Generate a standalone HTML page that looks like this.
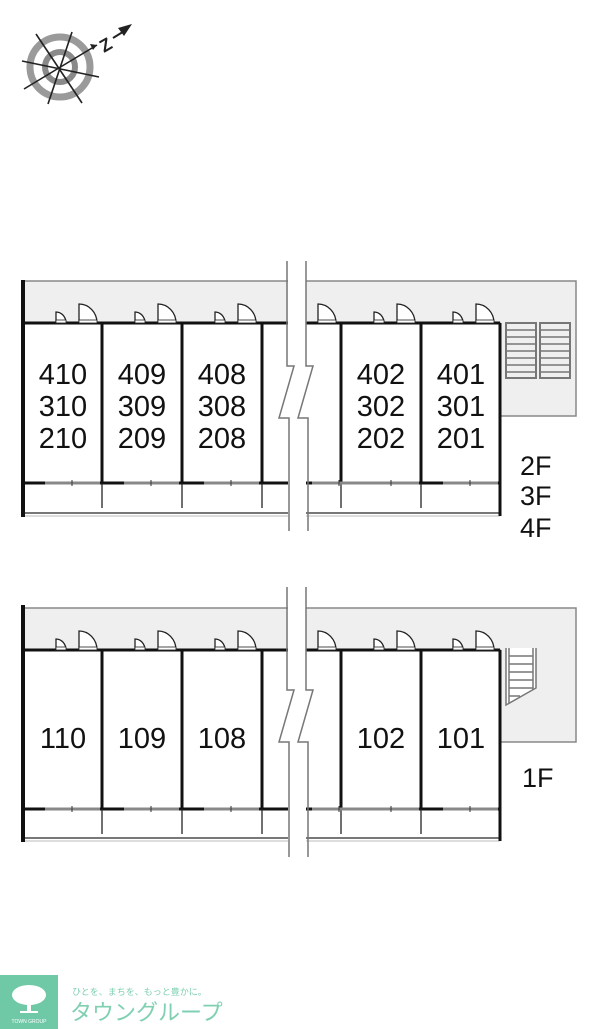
<!DOCTYPE html>
<html><head><meta charset="utf-8"><style>
html,body{margin:0;padding:0;background:#fff;}
svg{display:block}
text{font-family:"Liberation Sans","Noto Sans CJK JP",sans-serif;}
</style></head><body>
<svg width="600" height="1029" viewBox="0 0 600 1029" xmlns="http://www.w3.org/2000/svg">
<defs>
<g id="doors">
  <path d="M0,0 v-11 a10,11 0 0 1 10,11 z" fill="#fff" stroke="#222" stroke-width="1.3"/>
  <rect x="0" y="-3" width="10" height="3" fill="#fff" stroke="#222" stroke-width="0.8"/>
  <path d="M23,0 v-19 a18,19 0 0 1 18,19 z" fill="#fff" stroke="#222" stroke-width="1.3"/>
  <rect x="23" y="-3" width="18" height="3" fill="#fff" stroke="#222" stroke-width="0.8"/>
</g>
<g id="win">
  <line x1="0" y1="0" x2="55" y2="0" stroke="#888" stroke-width="3"/>
  <line x1="27" y1="-3" x2="27" y2="3" stroke="#333" stroke-width="1"/>
</g>
</defs>

<!-- compass -->
<g transform="translate(60,67)">
  <circle r="30" fill="none" stroke="#9a9a9a" stroke-width="7"/>
  <circle r="15" fill="none" stroke="#8a8a8a" stroke-width="6"/>
  <g stroke="#222" stroke-width="1.6">
    <line x1="-24" y1="-33" x2="22" y2="36"/>
    <line x1="12" y1="-35" x2="-12" y2="37"/>
    <line x1="-38" y1="-6" x2="39" y2="10"/>
    <line x1="-36" y1="22" x2="37" y2="-22"/>
  </g>
  <polygon points="37,-22 30,-23 33,-17" fill="#222"/>
</g>
<text x="100" y="52" font-size="18" font-weight="bold" fill="#222" transform="rotate(-30 104 45)">Z</text>
<line x1="113" y1="38" x2="126" y2="30" stroke="#222" stroke-width="2"/>
<polygon points="132,24 118,28 124,36" fill="#222"/>

<!-- ===== upper block ===== -->
<path d="M23,281 H576 V416 H500 V323 H23 Z" fill="#efefef" stroke="#888" stroke-width="1.5"/>
<rect x="23" y="323" width="477" height="160" fill="#fff"/>
<line x1="23" y1="513" x2="500" y2="513" stroke="#777" stroke-width="2"/>
<line x1="23" y1="516" x2="500" y2="516" stroke="#bbb" stroke-width="1"/>
<line x1="23" y1="323" x2="500" y2="323" stroke="#111" stroke-width="3"/>
<line x1="23" y1="483" x2="500" y2="483" stroke="#111" stroke-width="3"/>
<line x1="23" y1="280" x2="23" y2="517" stroke="#111" stroke-width="4"/>
<line x1="500" y1="323" x2="500" y2="516" stroke="#111" stroke-width="3"/>
<g stroke="#111" stroke-width="3">
<line x1="102" y1="323" x2="102" y2="483"/><line x1="182" y1="323" x2="182" y2="483"/>
<line x1="262" y1="323" x2="262" y2="483"/><line x1="341" y1="323" x2="341" y2="483"/>
<line x1="421" y1="323" x2="421" y2="483"/>
</g>
<g stroke="#222" stroke-width="1.3">
<line x1="102" y1="483" x2="102" y2="508"/><line x1="182" y1="483" x2="182" y2="508"/>
<line x1="262" y1="483" x2="262" y2="508"/><line x1="341" y1="483" x2="341" y2="508"/>
<line x1="421" y1="483" x2="421" y2="508"/>
</g>
<use href="#win" x="45" y="483"/><use href="#win" x="124" y="483"/><use href="#win" x="204" y="483"/>
<use href="#win" x="312" y="483"/><use href="#win" x="364" y="483"/><use href="#win" x="443" y="483"/>
<use href="#doors" x="56" y="323"/><use href="#doors" x="135" y="323"/><use href="#doors" x="215" y="323"/>
<use href="#doors" x="295" y="323"/><use href="#doors" x="374" y="323"/><use href="#doors" x="453" y="323"/>
<g stroke="#777" fill="none">
<rect x="506" y="323" width="30" height="55" stroke-width="2"/>
<rect x="540" y="323" width="30" height="55" stroke-width="2"/>
<g stroke-width="1.5">
<line x1="506" y1="330" x2="536" y2="330"/><line x1="506" y1="337" x2="536" y2="337"/><line x1="506" y1="344" x2="536" y2="344"/><line x1="506" y1="351" x2="536" y2="351"/><line x1="506" y1="358" x2="536" y2="358"/><line x1="506" y1="365" x2="536" y2="365"/><line x1="506" y1="372" x2="536" y2="372"/>
<line x1="540" y1="330" x2="570" y2="330"/><line x1="540" y1="337" x2="570" y2="337"/><line x1="540" y1="344" x2="570" y2="344"/><line x1="540" y1="351" x2="570" y2="351"/><line x1="540" y1="358" x2="570" y2="358"/><line x1="540" y1="365" x2="570" y2="365"/><line x1="540" y1="372" x2="570" y2="372"/>
</g></g>
<rect x="288" y="260" width="18" height="272" fill="#fff"/>
<path d="M287,261 V366 L294,366 L279,418 H289 V531" fill="none" stroke="#777" stroke-width="1.5"/>
<path d="M306,261 V366 L313,366 L298,418 H308 V531" fill="none" stroke="#777" stroke-width="1.5"/>
<g font-size="29" fill="#111" text-anchor="middle">
<text x="63" y="384">410</text><text x="63" y="416">310</text><text x="63" y="448">210</text>
<text x="142" y="384">409</text><text x="142" y="416">309</text><text x="142" y="448">209</text>
<text x="222" y="384">408</text><text x="222" y="416">308</text><text x="222" y="448">208</text>
<text x="381" y="384">402</text><text x="381" y="416">302</text><text x="381" y="448">202</text>
<text x="461" y="384">401</text><text x="461" y="416">301</text><text x="461" y="448">201</text>
</g>
<g font-size="27" fill="#111">
<text x="520" y="475">2F</text><text x="520" y="505">3F</text><text x="520" y="537">4F</text>
</g>

<!-- ===== lower block ===== -->
<path d="M23,608 H576 V742 H500 V650 H23 Z" fill="#efefef" stroke="#888" stroke-width="1.5"/>
<rect x="23" y="650" width="477" height="159" fill="#fff"/>
<line x1="23" y1="838" x2="500" y2="838" stroke="#777" stroke-width="2"/>
<line x1="23" y1="841" x2="500" y2="841" stroke="#bbb" stroke-width="1"/>
<line x1="23" y1="650" x2="500" y2="650" stroke="#111" stroke-width="3"/>
<line x1="23" y1="809" x2="500" y2="809" stroke="#111" stroke-width="3"/>
<line x1="23" y1="605" x2="23" y2="842" stroke="#111" stroke-width="4"/>
<line x1="500" y1="650" x2="500" y2="841" stroke="#111" stroke-width="3"/>
<g stroke="#111" stroke-width="3">
<line x1="102" y1="650" x2="102" y2="809"/><line x1="182" y1="650" x2="182" y2="809"/>
<line x1="262" y1="650" x2="262" y2="809"/><line x1="341" y1="650" x2="341" y2="809"/>
<line x1="421" y1="650" x2="421" y2="809"/>
</g>
<g stroke="#222" stroke-width="1.3">
<line x1="102" y1="809" x2="102" y2="834"/><line x1="182" y1="809" x2="182" y2="834"/>
<line x1="262" y1="809" x2="262" y2="834"/><line x1="341" y1="809" x2="341" y2="834"/>
<line x1="421" y1="809" x2="421" y2="834"/>
</g>
<use href="#win" x="45" y="809"/><use href="#win" x="124" y="809"/><use href="#win" x="204" y="809"/>
<use href="#win" x="312" y="809"/><use href="#win" x="364" y="809"/><use href="#win" x="443" y="809"/>
<use href="#doors" x="56" y="650"/><use href="#doors" x="135" y="650"/><use href="#doors" x="215" y="650"/>
<use href="#doors" x="295" y="650"/><use href="#doors" x="374" y="650"/><use href="#doors" x="453" y="650"/>
<g stroke="#777" fill="#fff" stroke-width="1.5">
<path d="M506,648 V705 L536,688 V648" fill="#fff"/>
<line x1="509" y1="648" x2="509" y2="703"/><line x1="533" y1="648" x2="533" y2="690"/>
<line x1="509" y1="656" x2="533" y2="656"/><line x1="509" y1="664" x2="533" y2="664"/><line x1="509" y1="672" x2="533" y2="672"/><line x1="509" y1="680" x2="533" y2="680"/><line x1="509" y1="688" x2="533" y2="688"/><line x1="509" y1="696" x2="520" y2="696"/>
</g>
<rect x="288" y="586" width="18" height="272" fill="#fff"/>
<path d="M287,587 V690 L294,690 L279,742 H289 V857" fill="none" stroke="#777" stroke-width="1.5"/>
<path d="M306,587 V690 L313,690 L298,742 H308 V857" fill="none" stroke="#777" stroke-width="1.5"/>
<g font-size="29" fill="#111" text-anchor="middle">
<text x="63" y="748">110</text><text x="142" y="748">109</text><text x="222" y="748">108</text>
<text x="381" y="748">102</text><text x="461" y="748">101</text>
</g>
<text x="522" y="787" font-size="27" fill="#111">1F</text>

<!-- logo -->
<rect x="0" y="975" width="58" height="54" fill="#6fc8a6"/>
<g fill="#fff">
<ellipse cx="29" cy="995" rx="17" ry="10"/>
<rect x="27" y="1000" width="4" height="12"/>
<rect x="20" y="1011" width="18" height="2"/>
</g>
<text x="29" y="1023" font-size="5" fill="#fff" text-anchor="middle">TOWN GROUP</text>
<text x="72" y="995" font-size="9" fill="#7fd0b0">ひとを、まちを、もっと豊かに。</text>
<text x="70" y="1020" font-size="22" fill="#7fd0b0">タウングループ</text>
</svg>
</body></html>
